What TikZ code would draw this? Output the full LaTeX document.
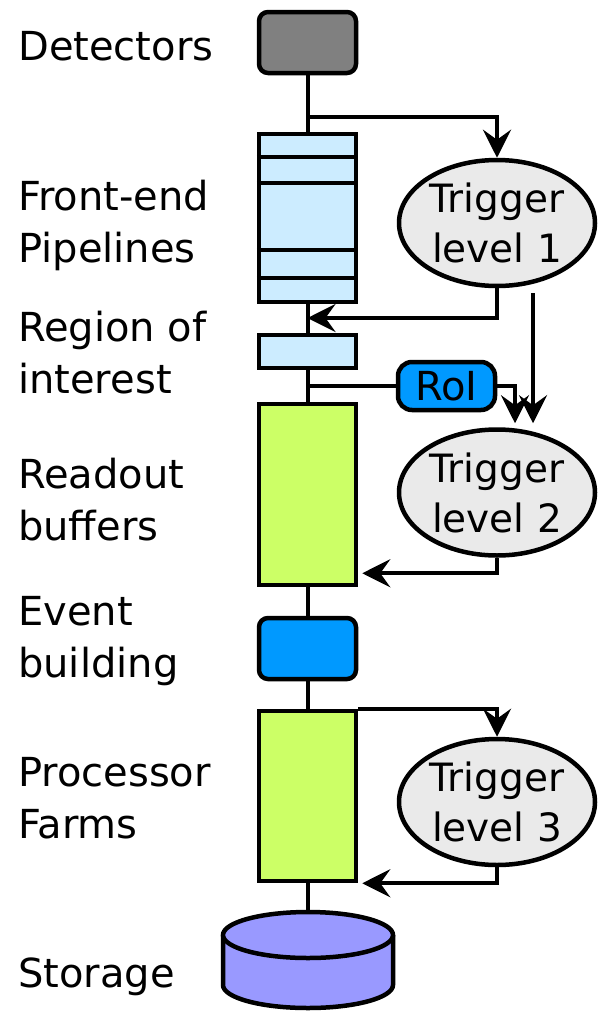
\documentclass[tikz,border=0pt]{standalone}
\usepackage{fontspec}
\setmainfont{DejaVu Sans}
\usepackage{xcolor}
\usepackage{tikz}
\usetikzlibrary{shapes.geometric, arrows.meta, positioning, calc}
\definecolor{DetGray}    {RGB}{128,128,128}
\definecolor{PipeBlue}   {RGB}{204,236,255}
\definecolor{BufGreen}   {RGB}{204,255,102}
\definecolor{EvbBlue}    {RGB}{0,  153,255}
\definecolor{TrigGray}   {RGB}{234,234,234}
\definecolor{StoreViolet}{RGB}{153,153,255}

\begin{document}
\begin{tikzpicture}[
  x=1pt, y=-1pt,
  every node/.style={font=\fontsize{40}{52}\selectfont},
  lbl/.style={anchor=base west, align=left, inner sep=0pt},
  blk/.style={draw, line width=4.5pt, minimum width=97pt, inner sep=0pt},
  trig/.style={ellipse, draw, line width=4.5pt, fill=TrigGray, minimum width=196pt,
               minimum height=126pt, inner sep=0pt, align=center,
               font=\fontsize{39}{50}\selectfont},
  ln/.style={line width=4pt},
  arr/.style={-{Stealth[length=28pt, width=28pt, inset=10pt]}, line width=4pt}
]
  \useasboundingbox (0,0) rectangle (598,1017);

  % main chain
  \node[blk, fill=DetGray, rounded corners=9pt, minimum height=61pt] (det) at (307.5,42.5) {};
  \node[blk, fill=PipeBlue, minimum height=168pt] (fe) at (307.5,218) {};
  \node[blk, fill=PipeBlue, minimum height=33pt] (roi) at (307.5,351.5) {};
  \node[blk, fill=BufGreen, minimum height=181pt] (rob) at (307.5,494.5) {};
  \node[blk, fill=EvbBlue, rounded corners=9pt, minimum height=61pt] (evb) at (307.5,648.5) {};
  \node[blk, fill=BufGreen, minimum height=170pt] (pf) at (307.5,796) {};
  \coordinate (sto) at (307.5,912);

  \foreach \yy in {157,183,250,278}
    \draw[line width=4.5pt] (fe.west |- 0,\yy) -- (fe.east |- 0,\yy);

  % triggers
  \node[trig] (t1) at (497,223) {Trigger\\level 1};
  \node[trig] (t2) at (497,492.5) {Trigger\\level 2};
  \node[trig] (t3) at (497,802) {Trigger\\level 3};
  \node[blk, fill=EvbBlue, rounded corners=14pt, minimum height=48pt] (tag) at (446.5,386) {RoI};

  % storage
  \fill[StoreViolet] (223,935) rectangle (393,985);
  \fill[StoreViolet] (308,985) ellipse [x radius=85, y radius=23];
  \draw[line width=4.5pt] (223,935) -- (223,985) arc[start angle=180, end angle=0, x radius=85, y radius=23] -- (393,935);
  \draw[line width=4.5pt, fill=StoreViolet] (308,935) ellipse [x radius=85, y radius=23];

  \draw[ln] (det) -- (fe);
  \draw[ln] (fe) -- (roi);
  \draw[ln] (roi) -- (rob);
  \draw[ln] (rob) -- (evb);
  \draw[ln] (evb) -- (pf);
  \draw[ln] (pf) -- (sto);

  \coordinate (b1) at (307.5,117);
  \coordinate (f1) at (307.5,318);
  \coordinate (b2) at (307.5,386);
  \draw[arr] (b1) -| (t1.north);
  \draw[arr] (t1.south) |- (f1);
  \draw[arr] ($(t1.south)+(36,5)$) -- ($(t2.north)+(36,-4)$);
  \draw[ln] (b2) -- (tag);
  \draw[arr] (tag) -| ($(t2.north)+(18,-4)$);
  \draw[arr] (t2.south) |- ($(rob.south east)+(4,-14)$);
  \draw[arr] (pf.north east) -| (t3.north);
  \draw[arr] (t3.south) |- ($(pf.south east)+(4,0)$);

  % labels (base = last line)
  \node[lbl] (lDet) at (18,60) {Detectors};
  \node[lbl] (lFe) at (18,262) {Front-end\\Pipelines};
  \node[lbl] (lRoi) at (18,393) {Region of\\interest};
  \node[lbl] (lRob) at (18,540) {Readout\\buffers};
  \node[lbl] (lEvb) at (18,677) {Event\\building};
  \node[lbl] (lPf) at (18,838) {Processor\\Farms};
  \node[lbl] (lSto) at (18,987) {Storage};
\end{tikzpicture}
\end{document}
